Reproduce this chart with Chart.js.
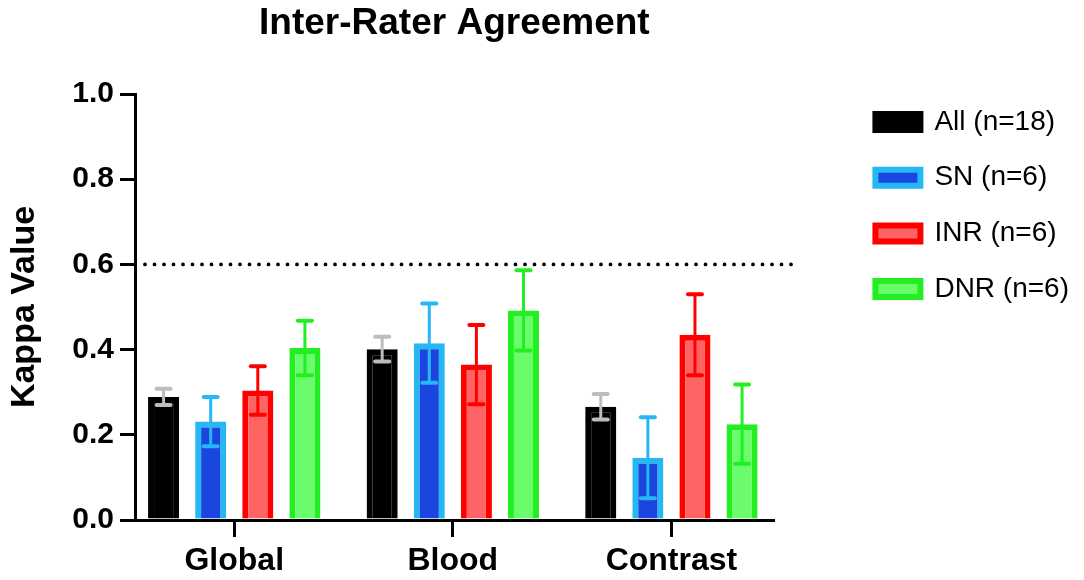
<!DOCTYPE html>
<html>
<head>
<meta charset="utf-8">
<script src="https://cdn.jsdelivr.net/npm/chart.js@4.4.1/dist/chart.umd.min.js"></script>
<style>
  html, body { margin: 0; padding: 0; background: #fff; }
  #wrap { width: 1084px; height: 580px; }
</style>
</head>
<body>
<div id="wrap"><canvas id="chartKappa"></canvas></div>
<script>
/* Inter-Rater Agreement — kappa per category, mean ± error */
const categories  = ['Global', 'Blood', 'Contrast'];
const groupLabels = ['All (n=18)', 'SN (n=6)', 'INR (n=6)', 'DNR (n=6)'];

const allMean = [0.289, 0.401, 0.266];
const allErr  = [0.019, 0.029, 0.030];
const snMean  = [0.231, 0.415, 0.146];
const snErr   = [0.058, 0.093, 0.095];
const inrMean = [0.304, 0.365, 0.435];
const inrErr  = [0.057, 0.093, 0.095];
const dnrMean = [0.404, 0.492, 0.225];
const dnrErr  = [0.064, 0.094, 0.093];

const yTicks    = [0, 0.2, 0.4, 0.6, 0.8, 1.0];
const threshold = 0.6;

const FONT = "'Liberation Sans', Arial, Helvetica, sans-serif";
Chart.defaults.font.family = FONT;
Chart.defaults.color = '#000';

const toPoints = vals => categories.map((c, i) => ({ x: i, y: vals[i] }));

/* ── error bars (whisker + caps), drawn over the bars ── */
const errorBars = {
  id: 'errorBars',
  afterDatasetsDraw(chart) {
    const { ctx } = chart;
    const y = chart.scales.y;
    chart.data.datasets.forEach((ds, di) => {
      const meta = chart.getDatasetMeta(di);
      if (meta.hidden) return;
      meta.data.forEach((bar, i) => {
        const m = ds.data[i].y, e = ds.errors[i];
        const top = y.getPixelForValue(m + e);
        const bot = y.getPixelForValue(m - e);
        ctx.save();
        ctx.strokeStyle = ds.errorColor;
        ctx.lineWidth = 3;
        ctx.beginPath();
        ctx.moveTo(bar.x, top);
        ctx.lineTo(bar.x, bot);
        ctx.stroke();
        ctx.lineWidth = 4;
        ctx.lineCap = 'round';
        [top, bot].forEach(py => {
          ctx.beginPath();
          ctx.moveTo(bar.x - 7, py);
          ctx.lineTo(bar.x + 7, py);
          ctx.stroke();
        });
        ctx.restore();
      });
    });
  },
};

/* ── dotted reference line at kappa 0.6 ── */
const refLine = {
  id: 'refLine',
  afterDatasetsDraw(chart) {
    const { ctx, chartArea } = chart;
    const py = chart.scales.y.getPixelForValue(threshold);
    ctx.save();
    ctx.strokeStyle = '#000';
    ctx.lineWidth = 3.8;
    ctx.lineCap = 'round';
    ctx.setLineDash([0, 9.5]);
    ctx.beginPath();
    ctx.moveTo(chartArea.left + 10, py);
    ctx.lineTo(chartArea.right + 26, py);
    ctx.stroke();
    ctx.restore();
  },
};

new Chart(document.getElementById('chartKappa'), {
  type: 'bar',
  data: {
    datasets: [
      {
        label: groupLabels[0], data: toPoints(allMean), errors: allErr,
        backgroundColor: '#000000', borderColor: '#000000', errorColor: '#bdbdbd',
      },
      {
        label: groupLabels[1], data: toPoints(snMean), errors: snErr,
        backgroundColor: '#1a45e0', borderColor: '#26b8f4', errorColor: '#26b8f4',
      },
      {
        label: groupLabels[2], data: toPoints(inrMean), errors: inrErr,
        backgroundColor: '#ff6464', borderColor: '#ff0000', errorColor: '#ff0000',
      },
      {
        label: groupLabels[3], data: toPoints(dnrMean), errors: dnrErr,
        backgroundColor: '#6afc6a', borderColor: '#22ee22', errorColor: '#22ee22',
      },
    ],
  },
  options: {
    responsive: true,
    maintainAspectRatio: false,
    animation: false,
    layout: { padding: { right: 5 } },
    datasets: {
      bar: {
        yAxisID: 'y',
        borderWidth: 6,
        categoryPercentage: 0.862,
        barPercentage: 0.66,
      },
    },
    plugins: {
      tooltip: { enabled: false },
      title: {
        display: true,
        text: 'Inter-Rater Agreement',
        fullSize: false,
        color: '#000',
        font: { size: 37, weight: 'bold' },
        padding: { top: 2, bottom: 47.6 },
      },
      legend: {
        position: 'right',
        align: 'start',
        maxWidth: 300,
        title: { display: true, text: '', font: { size: 12 }, padding: { top: 65.9, bottom: 0 } },
        labels: {
          boxWidth: 45,
          boxHeight: 16,
          padding: 27.7,
          color: '#000',
          font: { size: 28 },
        },
      },
    },
    scales: {
      x: {
        type: 'linear',
        offset: false,
        min: -0.454,
        max: 2.468,
        afterBuildTicks: s => { s.ticks = categories.map((c, i) => ({ value: i })); },
        afterFit: s => { s.height = 60; },
        ticks: {
          callback: v => categories[v],
          padding: 5,
          font: { size: 32, weight: 'bold' },
          color: '#000',
          maxRotation: 0,
        },
        grid: { offset: false, drawOnChartArea: false, tickLength: 17, lineWidth: 3, color: '#000' },
        border: { display: true, width: 3, color: '#000' },
      },
      y: {
        position: 'left',
        min: 0,
        max: 1,
        afterBuildTicks: s => { s.ticks = yTicks.map(v => ({ value: v })); },
        afterFit: s => { s.width = 135; },
        ticks: {
          callback: v => v.toFixed(1),
          padding: 6,
          font: { size: 30, weight: 'bold' },
          color: '#000',
        },
        title: {
          display: true,
          text: 'Kappa Value',
          color: '#000',
          font: { size: 34, weight: 'bold' },
          padding: { top: 4, bottom: 0 },
        },
        grid: { drawOnChartArea: false, tickLength: 15, lineWidth: 3, color: '#000' },
        border: { display: true, width: 3, color: '#000' },
      },
      /* empty spacer between plot and legend */
      gap: {
        type: 'linear',
        position: 'right',
        display: false,
        afterFit: s => { s.width = 74; },
      },
    },
  },
  plugins: [refLine, errorBars],
});
</script>
</body>
</html>
